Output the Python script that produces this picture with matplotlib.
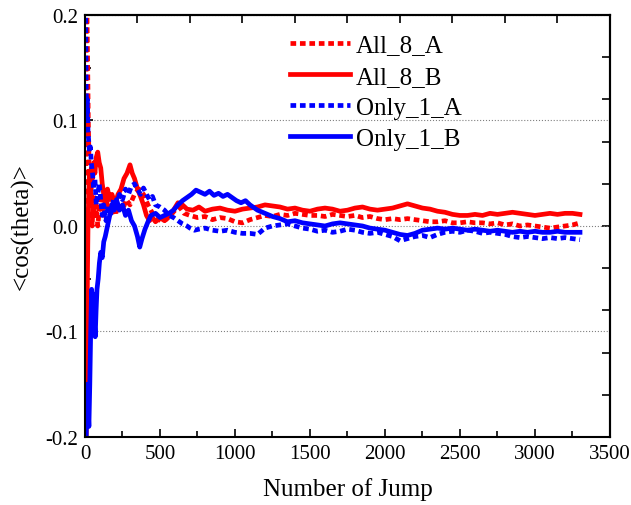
import matplotlib.pyplot as plt
from matplotlib.ticker import MultipleLocator, NullFormatter

plt.rcParams['font.family'] = ['Liberation Serif', 'DejaVu Serif']

# All_8_A (red dashed)
x_all8_a = [1, 3, 6, 10, 14, 18, 22, 27, 33, 40, 48, 56, 65, 75, 85, 95, 110, 125, 140, 160,
            180, 200, 225, 250, 275, 300, 330, 360, 390, 420, 450, 480, 510, 540, 570, 600,
            630, 660, 700, 750, 800, 850, 900, 950, 1000, 1050, 1100, 1150, 1200, 1250, 1300,
            1350, 1400, 1450, 1500, 1550, 1600, 1650, 1700, 1750, 1800, 1850, 1900, 1950,
            2000, 2050, 2100, 2150, 2200, 2250, 2300, 2350, 2400, 2450, 2500, 2550, 2600,
            2650, 2700, 2750, 2800, 2850, 2900, 2950, 3000, 3050, 3100, 3150, 3200, 3250, 3300]
y_all8_a = [-0.3, -0.1, 0.12, 0.25, 0.19, 0.15, 0.1, 0.06, 0.02, 0.04, 0.0, 0.03, 0.01, 0.02,
            0.0, 0.015, 0.03, 0.01, 0.025, 0.015, 0.02, 0.01, 0.02, 0.015, 0.025, 0.02, 0.03,
            0.035, 0.03, 0.02, 0.012, 0.008, 0.004, 0.006, 0.01, 0.015, 0.018, 0.012, 0.01,
            0.008, 0.009, 0.006, 0.008, 0.007, 0.004, 0.003, 0.006, 0.008, 0.01, 0.009, 0.011,
            0.01, 0.012, 0.011, 0.01, 0.01, 0.009, 0.011, 0.01, 0.009, 0.01, 0.008, 0.009,
            0.007, 0.006, 0.007, 0.006, 0.007, 0.006, 0.005, 0.004, 0.004, 0.005, 0.003, 0.003,
            0.004, 0.003, 0.003, 0.002, 0.003, 0.001, 0.002, 0.0, 0.001, 0.0, -0.001, -0.002,
            -0.001, 0.0, 0.001, 0.003]

# All_8_B (red solid)
x_all8_b = [1, 4, 8, 12, 16, 20, 25, 30, 36, 42, 50, 58, 66, 75, 85, 95, 105, 115, 125, 135,
            150, 165, 180, 200, 220, 240, 260, 280, 300, 315, 330, 350, 370, 390, 410, 430,
            450, 470, 500, 530, 560, 590, 620, 650, 680, 720, 760, 800, 850, 900, 950, 1000,
            1050, 1100, 1150, 1200, 1250, 1300, 1350, 1400, 1450, 1500, 1550, 1600, 1650,
            1700, 1750, 1800, 1850, 1900, 1950, 2000, 2050, 2100, 2150, 2200, 2250, 2300,
            2350, 2400, 2450, 2500, 2550, 2600, 2650, 2700, 2750, 2800, 2850, 2900, 2950,
            3000, 3050, 3100, 3150, 3200, 3250, 3300]
y_all8_b = [-0.4, -0.25, -0.2, -0.12, -0.05, 0.0, 0.03, 0.05, 0.04, 0.055, 0.045, 0.06, 0.05,
            0.065, 0.07, 0.06, 0.055, 0.04, 0.03, 0.02, 0.035, 0.025, 0.03, 0.02, 0.03, 0.035,
            0.045, 0.05, 0.058, 0.05, 0.045, 0.035, 0.028, 0.02, 0.01, 0.005, 0.008, 0.004,
            0.008, 0.005, 0.01, 0.015, 0.022, 0.02, 0.016, 0.015, 0.018, 0.014, 0.016, 0.017,
            0.015, 0.014, 0.016, 0.017, 0.018, 0.02, 0.019, 0.018, 0.016, 0.017, 0.015, 0.014,
            0.016, 0.017, 0.016, 0.014, 0.015, 0.017, 0.018, 0.016, 0.015, 0.016, 0.017, 0.019,
            0.021, 0.019, 0.017, 0.016, 0.014, 0.013, 0.011, 0.01, 0.01, 0.011, 0.01, 0.012,
            0.011, 0.012, 0.013, 0.012, 0.011, 0.01, 0.011, 0.012, 0.011, 0.012, 0.012, 0.011]

# Only_1_A (blue dashed)
x_only1_a = [1, 3, 5, 8, 12, 16, 20, 25, 30, 36, 42, 50, 58, 66, 75, 85, 95, 105, 115, 125,
             140, 155, 170, 190, 210, 230, 250, 270, 290, 310, 330, 350, 370, 390, 410, 430,
             450, 470, 500, 530, 560, 590, 620, 650, 680, 700, 730, 760, 800, 850, 900, 950,
             1000, 1050, 1100, 1150, 1200, 1250, 1300, 1350, 1400, 1450, 1500, 1550, 1600,
             1650, 1700, 1750, 1800, 1850, 1900, 1950, 2000, 2050, 2100, 2150, 2200, 2250,
             2300, 2350, 2400, 2450, 2500, 2550, 2600, 2650, 2700, 2750, 2800, 2850, 2900,
             2950, 3000, 3050, 3100, 3150, 3200, 3250, 3300]
y_only1_a = [0.45, 0.25, 0.18, 0.13, 0.1, 0.12, 0.09, 0.08, 0.07, 0.075, 0.06, 0.05, 0.035,
             0.045, 0.02, 0.03, 0.04, 0.025, 0.01, 0.02, 0.005, 0.02, 0.01, 0.025, 0.02, 0.03,
             0.025, 0.035, 0.03, 0.038, 0.04, 0.035, 0.03, 0.036, 0.03, 0.025, 0.028, 0.02,
             0.018, 0.015, 0.01, 0.008, 0.005, 0.002, 0.0, -0.002, -0.004, -0.003, -0.002,
             -0.004, -0.005, -0.004, -0.006, -0.007, -0.007, -0.008, -0.002, 0.0, 0.001, 0.002,
             0.0, -0.002, -0.003, -0.005, -0.004, -0.006, -0.005, -0.003, -0.004, -0.006,
             -0.007, -0.006, -0.008, -0.01, -0.014, -0.012, -0.01, -0.009, -0.011, -0.008,
             -0.006, -0.005, -0.006, -0.004, -0.005, -0.007, -0.006, -0.007, -0.008, -0.01,
             -0.011, -0.01, -0.011, -0.012, -0.011, -0.012, -0.011, -0.012, -0.013]

# Only_1_B (blue solid)
x_only1_b = [1, 4, 8, 14, 20, 26, 32, 38, 44, 50, 56, 62, 68, 74, 80, 88, 96, 105, 115, 125,
             135, 150, 165, 180, 195, 210, 230, 250, 270, 290, 310, 330, 350, 365, 380, 400,
             420, 440, 470, 500, 530, 560, 590, 620, 650, 680, 710, 740, 770, 800, 830, 860,
             890, 920, 950, 980, 1010, 1040, 1070, 1100, 1150, 1200, 1250, 1300, 1350, 1400,
             1450, 1500, 1550, 1600, 1650, 1700, 1750, 1800, 1850, 1900, 1950, 2000, 2050,
             2100, 2150, 2200, 2250, 2300, 2350, 2400, 2450, 2500, 2550, 2600, 2650, 2700,
             2750, 2800, 2850, 2900, 2950, 3000, 3050, 3100, 3150, 3200, 3250, 3300]
y_only1_b = [-0.4, -0.3, -0.2, -0.15, -0.17, -0.19, -0.15, -0.1, -0.06, -0.07, -0.065, -0.09,
             -0.105, -0.08, -0.06, -0.05, -0.035, -0.025, -0.03, -0.015, -0.01, 0.0, 0.01, 0.02,
             0.015, 0.025, 0.015, 0.02, 0.01, 0.015, 0.005, 0.0, -0.01, -0.02, -0.012, -0.003,
             0.004, 0.01, 0.012, 0.008, 0.01, 0.012, 0.015, 0.02, 0.024, 0.027, 0.03, 0.034,
             0.032, 0.03, 0.033, 0.029, 0.031, 0.028, 0.03, 0.027, 0.024, 0.022, 0.024, 0.02,
             0.015, 0.012, 0.009, 0.007, 0.004, 0.005, 0.003, 0.002, 0.001, 0.0, 0.002, 0.003,
             0.002, 0.001, 0.0, -0.002, -0.003, -0.004, -0.006, -0.008, -0.009, -0.007, -0.004,
             -0.003, -0.002, -0.003, -0.002, -0.003, -0.004, -0.003, -0.004, -0.005, -0.004,
             -0.005, -0.006, -0.005, -0.006, -0.005, -0.006, -0.006, -0.005, -0.006, -0.006,
             -0.006]

fig = plt.figure(figsize=(6.31, 5.06), dpi=100)
ax = fig.add_axes([0.1347, 0.1344, 0.832, 0.834])

dash = (0, (1.2, 0.8))
ax.plot(x_all8_a, y_all8_a, color='red', lw=3.4, linestyle=dash, label='All_8_A')
ax.plot(x_all8_b, y_all8_b, color='red', lw=3.4, label='All_8_B')
ax.plot(x_only1_a, y_only1_a, color='blue', lw=3.4, linestyle=dash, label='Only_1_A')
ax.plot(x_only1_b, y_only1_b, color='blue', lw=3.4, label='Only_1_B')

ax.set_xlim(0, 3500)
ax.set_ylim(-0.2, 0.2)
ax.xaxis.set_major_locator(MultipleLocator(500))
ax.xaxis.set_minor_locator(MultipleLocator(250))
ax.yaxis.set_major_locator(MultipleLocator(0.1))
ax.yaxis.set_minor_locator(MultipleLocator(0.05))
ax.set_yticks([-0.2, -0.1, 0.0, 0.1, 0.2])
ax.set_yticklabels(['-0.2', '-0.1', '0.0', '0.1', '0.2'])
ax.tick_params(which='both', direction='in', labelsize=15, width=1.2)
ax.tick_params(which='major', length=6, pad=5)
ax.tick_params(which='minor', length=4)
ax.yaxis.grid(True, which='major', linestyle=':', color='gray', lw=0.8)

# unlabeled ticks on top and right
top = ax.secondary_xaxis('top')
top.set_xticks(range(0, 3501, 350))
top.xaxis.set_major_formatter(NullFormatter())
top.tick_params(direction='in', length=6, width=1.2)
right = ax.secondary_yaxis('right')
right.set_yticks([-0.2 + 0.04 * i for i in range(11)])
right.yaxis.set_major_formatter(NullFormatter())
right.tick_params(direction='in', length=6, width=1.2)

for sp in ax.spines.values():
    sp.set_linewidth(1.5)
top.spines['top'].set_linewidth(1.5)
right.spines['right'].set_linewidth(1.5)

ax.set_xlabel('Number of Jump', fontsize=18, labelpad=10)
ax.set_ylabel('<cos(theta)>', fontsize=18, labelpad=8)

ax.legend(loc='upper left', bbox_to_anchor=(0.39, 0.955), frameon=False, fontsize=18,
          handlelength=2.4, handletextpad=0.25, labelspacing=0.35, borderpad=0,
          borderaxespad=0)

fig.savefig('out.png', dpi=100)
